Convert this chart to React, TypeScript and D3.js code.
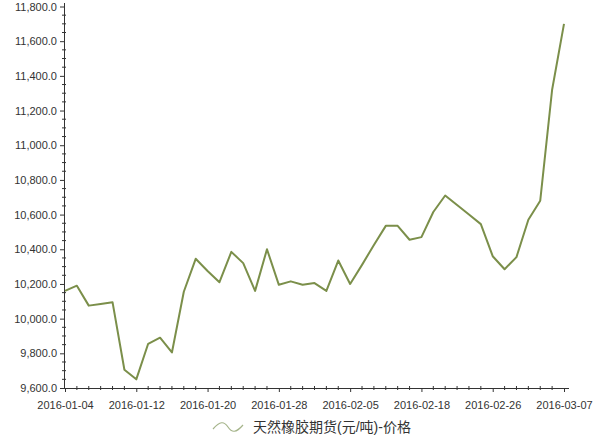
import React, { useEffect, useRef } from 'react';
import * as d3 from 'd3';

const WIDTH = 600;
const HEIGHT = 438;

const dates = [
  '2016-01-04', '2016-01-05', '2016-01-06', '2016-01-07', '2016-01-08',
  '2016-01-11', '2016-01-12', '2016-01-13', '2016-01-14', '2016-01-15',
  '2016-01-18', '2016-01-19', '2016-01-20', '2016-01-21', '2016-01-22',
  '2016-01-25', '2016-01-26', '2016-01-27', '2016-01-28', '2016-01-29',
  '2016-02-01', '2016-02-02', '2016-02-03', '2016-02-04', '2016-02-05',
  '2016-02-06', '2016-02-14', '2016-02-15', '2016-02-16', '2016-02-17',
  '2016-02-18', '2016-02-19', '2016-02-22', '2016-02-23', '2016-02-24',
  '2016-02-25', '2016-02-26', '2016-02-29', '2016-03-01', '2016-03-02',
  '2016-03-03', '2016-03-04', '2016-03-07',
];

const prices = [
  10160, 10190, 10075, 10085, 10095,
  9705, 9650, 9855, 9890, 9805,
  10155, 10345, 10275, 10210, 10385,
  10320, 10160, 10400, 10195, 10215,
  10195, 10205, 10160, 10335, 10200,
  10310, 10425, 10535, 10535, 10455,
  10470, 10615, 10710, 10655, 10600,
  10545, 10360, 10285, 10355, 10570,
  10680, 11320, 11700,
];

const yTicks = [9600, 9800, 10000, 10200, 10400, 10600, 10800, 11000, 11200, 11400, 11600, 11800];
const xTickLabels = ['2016-01-04', '2016-01-12', '2016-01-20', '2016-01-28', '2016-02-05', '2016-02-18', '2016-02-26', '2016-03-07'];
const seriesName = '天然橡胶期货(元/吨)-价格';

const LINE_COLOR = '#7b8f4a';
const AXIS_COLOR = '#333';
const FONT = 'Arial, "Liberation Sans", "Noto Sans CJK SC", sans-serif';

const App: React.FC = () => {
  const ref = useRef<SVGSVGElement>(null);

  useEffect(() => {
    const svg = d3.select(ref.current);
    svg.selectAll('*').remove();

    const x = d3.scalePoint<string>().domain(dates).range([65, 564]);
    const y = d3.scaleLinear().domain([9600, 11800]).range([388, 6.5]);

    // minor ticks (y every 50, x every category)
    const minorY = d3.range(9650, 11800, 50).filter((v) => v % 200 !== 0);
    svg
      .append('g')
      .selectAll('line')
      .data(minorY)
      .join('line')
      .attr('x1', 62)
      .attr('x2', 66)
      .attr('y1', (d) => y(d))
      .attr('y2', (d) => y(d))
      .attr('stroke', AXIS_COLOR);

    svg
      .append('g')
      .selectAll('line')
      .data(dates.filter((d) => !xTickLabels.includes(d)))
      .join('line')
      .attr('x1', (d) => x(d)!)
      .attr('x2', (d) => x(d)!)
      .attr('y1', 386)
      .attr('y2', 390)
      .attr('stroke', AXIS_COLOR);

    // y axis
    const gy = svg
      .append('g')
      .attr('transform', 'translate(64,0)')
      .call(
        d3
          .axisLeft(y)
          .tickValues(yTicks)
          .tickSize(4)
          .tickSizeOuter(0)
          .tickFormat((d) => d3.format(',.1f')(d as number))
      );
    gy.select('.domain').attr('stroke', AXIS_COLOR).attr('d', 'M0.5,3V388');
    gy.selectAll('.tick line').attr('stroke', AXIS_COLOR);
    gy.selectAll('.tick text')
      .attr('fill', AXIS_COLOR)
      .attr('font-size', 11)
      .attr('font-family', FONT)
      .attr('x', -7);

    // x axis
    const gx = svg
      .append('g')
      .attr('transform', 'translate(0,388)')
      .call(d3.axisBottom(x).tickValues(xTickLabels).tickSize(4).tickSizeOuter(0));
    gx.select('.domain').attr('stroke', AXIS_COLOR).attr('d', 'M64,0.5H569');
    gx.selectAll('.tick line').attr('stroke', AXIS_COLOR);
    gx.selectAll('.tick text')
      .attr('fill', AXIS_COLOR)
      .attr('font-size', 11)
      .attr('font-family', FONT)
      .attr('y', 13);

    // series line
    const line = d3
      .line<number>()
      .x((_, i) => x(dates[i])!)
      .y((d) => y(d));

    svg
      .append('path')
      .datum(prices)
      .attr('fill', 'none')
      .attr('stroke', LINE_COLOR)
      .attr('stroke-width', 2)
      .attr('stroke-linejoin', 'round')
      .attr('d', line);

    // legend
    const legend = svg.append('g').attr('transform', 'translate(213,427)');
    legend
      .append('path')
      .attr('d', 'M0,2 C7,-6 11,-6 15,0 C19,6 23,6 30,-2')
      .attr('fill', 'none')
      .attr('stroke', '#a5b48a')
      .attr('stroke-width', 1.2);
    legend
      .append('text')
      .attr('x', 40)
      .attr('y', 5)
      .attr('font-size', 14)
      .attr('font-family', FONT)
      .attr('fill', AXIS_COLOR)
      .text(seriesName);
  }, []);

  return <svg ref={ref} width={WIDTH} height={HEIGHT} style={{ display: 'block', position: 'absolute', left: 0, top: 0 }} />;
};

export default App;
